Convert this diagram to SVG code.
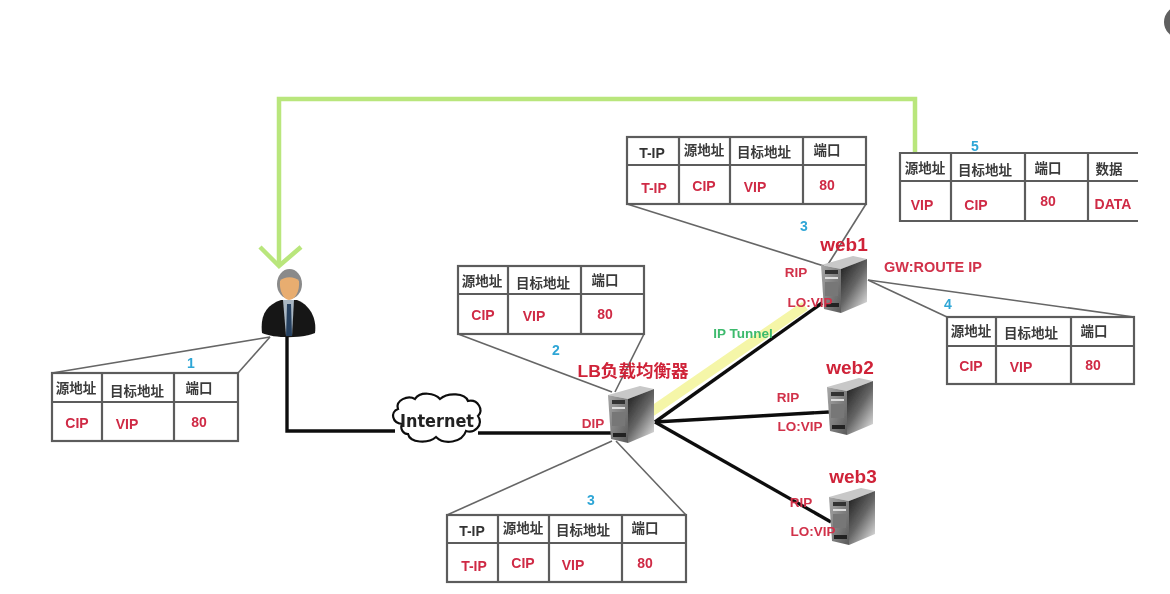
<svg xmlns="http://www.w3.org/2000/svg" width="1170" height="594" viewBox="0 0 1170 594">
<style>
.grid{fill:#fff;stroke:#5c5c5c;stroke-width:2.2}
.div{fill:none;stroke:#5c5c5c;stroke-width:2.2}
.callout{fill:none;stroke:#666;stroke-width:1.6}
.wire{fill:none;stroke:#111;stroke-width:3.4}
.h{font:bold 13.5px "Noto Sans CJK SC","Liberation Sans",sans-serif;fill:#3a3a3a;text-anchor:middle}
.hl{font:bold 14px "Liberation Sans",sans-serif;fill:#333;text-anchor:middle}
.v{font:bold 14px "Liberation Sans",sans-serif;fill:#cf2a45;text-anchor:middle}
.n{font:bold 14px "Liberation Sans",sans-serif;fill:#2fa6d6;text-anchor:middle}
.r{font:bold 13.5px "Liberation Sans",sans-serif;fill:#d1304a;text-anchor:middle}
.w{font:bold 19px "Liberation Sans",sans-serif;fill:#cf2338;text-anchor:middle}
</style>
<defs>
<filter id="soft" x="-2%" y="-2%" width="104%" height="104%"><feGaussianBlur stdDeviation="0.7"/></filter>
<linearGradient id="side" x1="0" y1="0" x2="0.75" y2="1"><stop offset="0" stop-color="#161616"/><stop offset="0.55" stop-color="#666"/><stop offset="1" stop-color="#d4d4d4"/></linearGradient>
<linearGradient id="front" x1="0" y1="0" x2="1" y2="1"><stop offset="0" stop-color="#a8a8a8"/><stop offset="1" stop-color="#5a5a5a"/></linearGradient>
<g id="server">
<polygon points="0,9 32,0 46,3 20,13" fill="#c8c8c8"/>
<polygon points="20,13 46,3 46,46 20,57" fill="url(#side)"/>
<polygon points="0,9 20,13 20,57 3,53" fill="url(#front)"/>
<rect x="4" y="14" width="13" height="4" fill="#333"/>
<rect x="4" y="21" width="13" height="2" fill="#ddd"/>
<rect x="4" y="26" width="13" height="14" fill="#777"/>
<rect x="5" y="47" width="13" height="4" fill="#222"/>
</g>
</defs>
<rect width="1170" height="594" fill="#fff"/>
<circle cx="1180" cy="22" r="16" fill="#606060"/>
<g filter="url(#soft)">
<g id="connectors">
<polyline points="915,153 915,99 279,99 279,265" fill="none" stroke="#b9e67c" stroke-width="4.500"/>
<polyline points="260,247 279,266 301,247" fill="none" stroke="#b9e67c" stroke-width="4.500"/>
<polyline class="callout" points="270,337 52,373"/>
<polyline class="callout" points="270,337 238,373"/>
<polyline class="callout" points="458,334 612,392"/>
<polyline class="callout" points="644,334 615,392"/>
<polyline class="callout" points="447,515 612,441"/>
<polyline class="callout" points="686,515 616,441"/>
<polyline class="callout" points="627,204 824,266"/>
<polyline class="callout" points="866,204 827,266"/>
<polyline class="callout" points="868,280 947,317"/>
<polyline class="callout" points="868,280 1134,317"/>
<line x1="648" y1="414" x2="805" y2="306" stroke="#f5f6a8" stroke-width="10"/>
<polyline class="wire" points="287,337 287,431 395,431"/>
<polyline class="wire" points="478,433 612,433"/>
<polyline class="wire" points="655,422 822,303"/>
<polyline class="wire" points="655,422 829,412"/>
<polyline class="wire" points="655,422 831,522"/>
</g>
<g id="user">
<path d="M262,333 C260,316 266,305 281,300 L297,300 C310,305 317,318 315,333 C305,338 275,339 262,333Z" fill="#171717"/>
<path d="M283,300 L294,300 L292,336 L286,336Z" fill="#a9b6c2"/>
<path d="M287,304 L291,304 L292,336 L286,336Z" fill="#25405f"/>
<ellipse cx="289.500" cy="284" rx="12.500" ry="15" fill="#8a8a8a"/>
<path d="M280,281 C284,276 295,276 299,281 C300,291 295,300 289,300 C284,300 279,291 280,281Z" fill="#e8ad70"/>
</g>
<g id="cloud">
<path d="M402,424 C392,423 390,412 398,409 C395,400 408,395 415,399 C420,391 435,393 440,399 C448,392 465,393 468,401 C478,399 484,410 478,416 C484,425 474,434 466,431 C462,443 444,445 436,437 C428,444 410,443 408,434 C403,434 400,429 402,424Z" fill="#fff" stroke="#111" stroke-width="2.200"/>
<text x="437" y="427" style="font:bold 17px 'DejaVu Sans',sans-serif;fill:#222;text-anchor:middle" textLength="74" lengthAdjust="spacingAndGlyphs">Internet</text>
</g>
<g id="lb">
<use href="#server" x="608" y="386"/>
<text class="w" x="633" y="377" style="font-family:'Liberation Sans','Noto Sans CJK SC',sans-serif;font-size:17px" textLength="111" lengthAdjust="spacingAndGlyphs">LB负载均衡器</text>
<text class="r" x="593" y="428">DIP</text>
</g>
<g id="web1">
<use href="#server" x="821" y="256"/>
<text class="w" x="844" y="251">web1</text>
<text class="r" x="796" y="277">RIP</text>
<text class="r" x="810" y="307">LO:VIP</text>
<text class="r" x="933" y="272" style="font-size:14.500px">GW:ROUTE IP</text>
</g>
<g id="web2">
<use href="#server" x="827" y="378"/>
<text class="w" x="850" y="374">web2</text>
<text class="r" x="788" y="402">RIP</text>
<text class="r" x="800" y="431">LO:VIP</text>
</g>
<g id="web3">
<use href="#server" x="829" y="488"/>
<text class="w" x="853" y="483">web3</text>
<text class="r" x="801" y="507">RIP</text>
<text class="r" x="813" y="536">LO:VIP</text>
</g>
<text x="743" y="338" style="font:bold 13.500px 'Liberation Sans',sans-serif;fill:#3dba6d;text-anchor:middle">IP Tunnel</text>
<g id="table1">
<rect class="grid" x="52" y="373" width="186" height="68"/>
<path class="div" d="M52,402H238M102,373V441M174,373V441"/>
<text class="h" x="76" y="393">源地址</text><text class="h" x="137" y="396">目标地址</text><text class="h" x="199" y="393">端口</text>
<text class="v" x="77" y="428">CIP</text><text class="v" x="127" y="429">VIP</text><text class="v" x="199" y="427">80</text>
<text class="n" x="191" y="368">1</text>
</g>
<g id="table2">
<rect class="grid" x="458" y="266" width="186" height="68"/>
<path class="div" d="M458,294H644M508,266V334M581,266V334"/>
<text class="h" x="482" y="286">源地址</text><text class="h" x="543" y="288">目标地址</text><text class="h" x="605" y="285">端口</text>
<text class="v" x="483" y="320">CIP</text><text class="v" x="534" y="321">VIP</text><text class="v" x="605" y="319">80</text>
<text class="n" x="556" y="355">2</text>
</g>
<g id="table3b">
<rect class="grid" x="447" y="515" width="239" height="67"/>
<path class="div" d="M447,543H686M498,515V582M549,515V582M622,515V582"/>
<text class="hl" x="472" y="536">T-IP</text><text class="h" x="523" y="533">源地址</text><text class="h" x="583" y="535">目标地址</text><text class="h" x="645" y="533">端口</text>
<text class="v" x="474" y="571">T-IP</text><text class="v" x="523" y="568">CIP</text><text class="v" x="573" y="570">VIP</text><text class="v" x="645" y="568">80</text>
<text class="n" x="591" y="505">3</text>
</g>
<g id="table3t">
<rect class="grid" x="627" y="137" width="239" height="67"/>
<path class="div" d="M627,165H866M679,137V204M730,137V204M803,137V204"/>
<text class="hl" x="652" y="158">T-IP</text><text class="h" x="704" y="155">源地址</text><text class="h" x="764" y="157">目标地址</text><text class="h" x="827" y="155">端口</text>
<text class="v" x="654" y="193">T-IP</text><text class="v" x="704" y="191">CIP</text><text class="v" x="755" y="192">VIP</text><text class="v" x="827" y="190">80</text>
<text class="n" x="804" y="231">3</text>
</g>
<g id="table4">
<rect class="grid" x="947" y="317" width="187" height="67"/>
<path class="div" d="M947,346H1134M996,317V384M1071,317V384"/>
<text class="h" x="971" y="336">源地址</text><text class="h" x="1031" y="338">目标地址</text><text class="h" x="1094" y="336">端口</text>
<text class="v" x="971" y="371">CIP</text><text class="v" x="1021" y="372">VIP</text><text class="v" x="1093" y="370">80</text>
<text class="n" x="948" y="309">4</text>
</g>
<g id="table5">
<path class="div" d="M1138,153H900V221H1138M900,181H1138M951,153V221M1025,153V221M1088,153V221"/>
<text class="h" x="925" y="173">源地址</text><text class="h" x="985" y="175">目标地址</text><text class="h" x="1048" y="173">端口</text><text class="h" x="1109" y="174">数据</text>
<text class="v" x="922" y="210">VIP</text><text class="v" x="976" y="210">CIP</text><text class="v" x="1048" y="206">80</text><text class="v" x="1113" y="209">DATA</text>
<text class="n" x="975" y="151">5</text>
</g>
</g>
</svg>
